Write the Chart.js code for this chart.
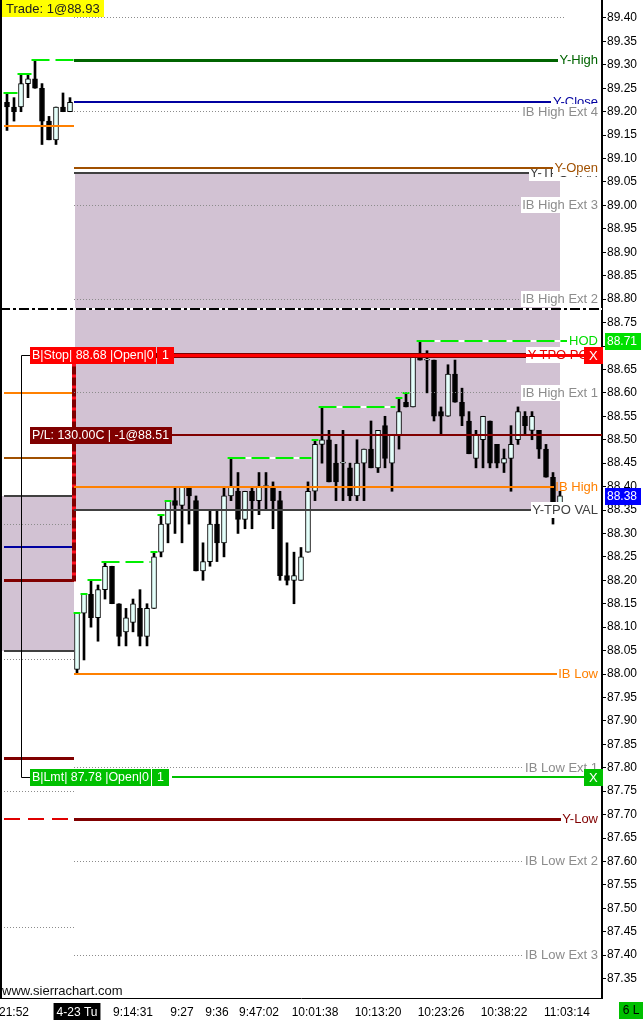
<!DOCTYPE html>
<html><head><meta charset="utf-8">
<script src="https://cdn.jsdelivr.net/npm/chart.js@4.4.1/dist/chart.umd.min.js"></script>
<style>html,body{margin:0;padding:0;background:#fff;overflow:hidden}canvas{display:block}</style>
</head><body>
<canvas id="c" width="643" height="1020"></canvas>
<script>
// ---------------- DATA ----------------
// bars 0-9 = previous session (end), bars 10-79 = current session
const sessionStart = 10;
const opens  = [89.22,89.21,89.21,89.26,89.27,89.25,89.18,89.14,89.21,89.20,
  88.01,88.13,88.17,88.12,88.18,88.23,88.15,88.09,88.11,88.14,
  88.08,88.14,88.26,88.32,88.37,88.36,88.40,88.37,88.22,88.24,
  88.32,88.28,88.38,88.39,88.33,88.39,88.37,88.40,88.40,88.37,
  88.21,88.20,88.20,88.26,88.39,88.49,88.50,88.45,88.45,88.44,
  88.38,88.45,88.48,88.44,88.53,88.45,88.51,88.58,88.57,88.68,
  88.67,88.67,88.56,88.55,88.64,88.58,88.54,88.46,88.50,88.54,
  88.49,88.45,88.46,88.50,88.55,88.52,88.52,88.48,88.42,88.35];
const highs  = [89.24,89.23,89.28,89.28,89.31,89.26,89.19,89.21,89.24,89.23,
  88.13,88.17,88.20,88.19,88.24,88.23,88.15,88.14,88.16,88.18,
  88.15,88.26,88.34,88.37,88.40,88.40,88.40,88.38,88.28,88.35,
  88.35,88.40,88.46,88.43,88.39,88.40,88.43,88.43,88.41,88.39,
  88.28,88.26,88.27,88.41,88.50,88.57,88.52,88.49,88.52,88.45,
  88.50,88.48,88.54,88.52,88.55,88.51,88.59,88.60,88.68,88.71,
  88.69,88.67,88.57,88.66,88.67,88.61,88.56,88.52,88.55,88.54,
  88.49,88.48,88.53,88.57,88.56,88.56,88.52,88.49,88.43,88.39];
const lows   = [89.16,89.18,89.20,89.23,89.25,89.13,89.14,89.13,89.20,89.20,
  88.00,88.03,88.10,88.07,88.16,88.15,88.06,88.06,88.09,88.06,
  88.06,88.14,88.25,88.28,88.30,88.28,88.32,88.22,88.20,88.23,
  88.24,88.25,88.37,88.30,88.31,88.31,88.34,88.35,88.31,88.20,
  88.19,88.15,88.20,88.26,88.37,88.45,88.41,88.37,88.37,88.37,
  88.37,88.37,88.44,88.43,88.44,88.39,88.48,88.57,88.57,88.67,
  88.60,88.54,88.51,88.55,88.58,88.53,88.47,88.44,88.44,88.44,
  88.44,88.43,88.39,88.49,88.51,88.50,88.46,88.42,88.32,88.35];
const closes = [89.21,89.20,89.26,89.27,89.25,89.18,89.14,89.21,89.20,89.22,
  88.13,88.17,88.12,88.18,88.23,88.15,88.08,88.12,88.15,88.08,
  88.14,88.25,88.32,88.37,88.36,88.40,88.38,88.22,88.24,88.32,
  88.28,88.38,88.40,88.33,88.39,88.37,88.40,88.40,88.37,88.21,
  88.20,88.21,88.25,88.39,88.49,88.50,88.41,88.41,88.45,88.38,
  88.45,88.48,88.44,88.52,88.46,88.51,88.56,88.57,88.68,88.67,
  88.67,88.55,88.55,88.64,88.58,88.55,88.47,88.51,88.55,88.45,
  88.45,88.46,88.49,88.56,88.53,88.55,88.48,88.42,88.35,88.38];

const timeLabels    = ['21:52','4-23 Tu','9:14:31','9:27','9:36','9:47:02','10:01:38','10:13:20','10:23:26','10:38:22','11:03:14'];
const timeLabelBars = [1,10,18,25,30,36,44,53,62,71,80];

const yTickLabels = ['87.35','87.40','87.45','87.50','87.55','87.60','87.65','87.70','87.75','87.80',
  '87.85','87.90','87.95','88.00','88.05','88.10','88.15','88.20','88.25','88.30','88.35','88.40',
  '88.45','88.50','88.55','88.60','88.65','88.70','88.75','88.80','88.85','88.90','88.95','89.00',
  '89.05','89.10','89.15','89.20','89.25','89.30','89.35','89.40'];

// current-session study levels (drawn in this order)
const levelNames  = ['IB High Ext 5','Y-High','Y-Close','IB High Ext 4','Y-TPO VAH','Y-Open','IB High Ext 3',
  'IB High Ext 2','IB Mid','HOD','Y-TPO POC','IB High Ext 1','IB High','Y-TPO VAL','IB Low','IB Low Ext 1',
  'Y-Low','IB Low Ext 2','IB Low Ext 3'];
const levelPrices = [89.40,89.31,89.22,89.20,89.07,89.08,89.00,88.80,88.78,88.71,88.68,88.60,88.40,88.35,
  88.00,87.80,87.69,87.60,87.40];
const todayValueArea = [88.35, 89.07];

// previous-session levels (left part of chart)
const priorLevelNames  = ['ibl','ibh','open','vah','ext','close','low','val','ext2','pl','ext3','ylow','ext4'];
const priorLevelPrices = [89.17,88.60,88.46,88.38,88.32,88.27,88.20,88.05,88.03,87.82,87.75,87.69,87.46];
const priorValueArea = [88.05, 88.38];

// orders / trade info
const orderTexts  = ['B|Stop| 88.68 |Open|0', 'B|Lmt| 87.78 |Open|0'];
const orderQty    = ['1','1'];
const orderPrices = [88.68, 87.78];
const stopTrailTo = 88.20;
const pnlText = 'P/L: 130.00C | -1@88.51';
const pnlPrice = 88.51;
const tradeText = 'Trade: 1@88.93';
const statusText = '6 L';

// ---------------- STYLES ----------------
const FONT = '13px "Liberation Sans", Arial, sans-serif';
const BOX_FONT = '12.4px "Liberation Sans", Arial, sans-serif';
const SHADE = 'rgb(210,194,211)';
const EXT = { line:'#8c8c8c', w:1, dash:[1,2], text:'#8c8c8c', bg:'#ffffff' };
const ORANGE = { line:'#ff8000', w:2, text:'#ff8000' };
const levelStyle = {
  'IB High Ext 5': { line:'#8c8c8c', w:1, dash:[1,2], text:null, endGap:37 },
  'Y-High': { line:'#006400', w:3, text:'#006400' },
  'Y-Close': { line:'#0000a0', w:2, text:'#0000a0' },
  'IB High Ext 4': EXT,
  'Y-TPO VAH': { line:'#404040', w:2, text:'#404040', bg:'#ffffff' },
  'Y-Open': { line:'#a05000', w:2, text:'#a05000', bg:'#ffffff' },
  'IB High Ext 3': EXT,
  'IB High Ext 2': EXT,
  'IB Mid': { line:'#000000', w:2, dash:[10,3,3,3], under:'#ffffff', text:null, full:true },
  'HOD': { line:null, text:'#00dd00' },
  'Y-TPO POC': { line:'#800000', w:5, text:'#e00000', bg:'#ffffff' },
  'IB High Ext 1': EXT,
  'IB High': ORANGE,
  'Y-TPO VAL': { line:'#404040', w:2, text:'#404040', bg:'#ffffff' },
  'IB Low': ORANGE,
  'IB Low Ext 1': EXT,
  'Y-Low': { line:'#800000', w:3, text:'#800000' },
  'IB Low Ext 2': EXT,
  'IB Low Ext 3': EXT
};
const priorStyle = {
  ibl:{c:'#ff8000',w:2}, ibh:{c:'#ff8000',w:2}, open:{c:'#a05000',w:2}, vah:{c:'#404040',w:2},
  ext:{c:'#8c8c8c',w:1,d:[1,2]}, close:{c:'#0000a0',w:2}, low:{c:'#800000',w:3}, val:{c:'#404040',w:2},
  ext2:{c:'#8c8c8c',w:1,d:[1,2]}, pl:{c:'#800000',w:3}, ext3:{c:'#8c8c8c',w:1,d:[1,2]},
  ylow:{c:'#e00000',w:2,d:[16,8]}, ext4:{c:'#8c8c8c',w:1,d:[1,2]}
};

// ---------------- HELPERS ----------------
function hline(ctx, x1, x2, yp, color, w, dash, under) {
  const yy = (w % 2 === 1) ? Math.floor(yp) + 0.5 : Math.round(yp);
  ctx.save();
  ctx.lineWidth = w; ctx.lineCap = 'butt';
  if (under) {
    ctx.strokeStyle = under; ctx.setLineDash([]);
    ctx.beginPath(); ctx.moveTo(x1, yy); ctx.lineTo(x2, yy); ctx.stroke();
  }
  ctx.strokeStyle = color; ctx.setLineDash(dash || []);
  ctx.beginPath(); ctx.moveTo(x1, yy); ctx.lineTo(x2, yy); ctx.stroke();
  ctx.restore();
}
function labelLeft(ctx, a, text) {
  ctx.save(); ctx.font = FONT;
  const w = ctx.measureText(text).width; ctx.restore();
  return Math.floor(a.right - 4 - w) - 1;
}
function rightLabel(ctx, a, text, yp, color, bg) {
  ctx.save(); ctx.font = FONT;
  const xr = a.right - 4;
  const xl = labelLeft(ctx, a, text);
  if (bg) { ctx.fillStyle = bg; ctx.fillRect(xl, Math.round(yp) - 8, xr - xl + 2, 16); }
  ctx.fillStyle = color; ctx.textAlign = 'right'; ctx.textBaseline = 'middle';
  ctx.fillText(text, xr, Math.round(yp) + 0.5);
  ctx.restore();
  return xl;
}
function boxText(ctx, text, x, yc, bg, fg, pad, h, font) {
  ctx.save(); ctx.font = font || BOX_FONT;
  const w = Math.ceil(ctx.measureText(text).width);
  const top = Math.round(yc - h / 2);
  ctx.fillStyle = bg; ctx.fillRect(x, top, w + 2 * pad, h);
  ctx.fillStyle = fg; ctx.textAlign = 'left'; ctx.textBaseline = 'middle';
  ctx.fillText(text, x + pad, top + h / 2 + 0.5);
  ctx.restore();
  return x + w + 2 * pad;
}

const sierraPlugin = {
  id: 'sierra',
  beforeDatasetsDraw(chart) {
    const { ctx, chartArea: a, scales: { x, y } } = chart;
    ctx.save();
    ctx.fillStyle = SHADE;
    const xs = Math.round(x.getPixelForValue(sessionStart - 0.5)) + 1;
    const xe = Math.round(x.getPixelForValue(opens.length - 1));
    const t1 = y.getPixelForValue(todayValueArea[1]), b1 = y.getPixelForValue(todayValueArea[0]);
    ctx.fillRect(xs, Math.round(t1), xe - xs, Math.round(b1) - Math.round(t1));
    const t0 = y.getPixelForValue(priorValueArea[1]), b0 = y.getPixelForValue(priorValueArea[0]);
    ctx.fillRect(a.left + 2, Math.round(t0), xs - 3 - a.left, Math.round(b0) - Math.round(t0));
    ctx.restore();
  },
  afterDatasetsDraw(chart) {
    const { ctx, chartArea: a, scales: { x, y } } = chart;
    const xSess = x.getPixelForValue(sessionStart - 0.5);
    const xFirst = x.getPixelForValue(-0.5);

    // previous-session levels
    priorLevelNames.forEach((n, i) => {
      const s = priorStyle[n];
      hline(ctx, Math.round(xFirst), Math.round(xSess), y.getPixelForValue(priorLevelPrices[i]), s.c, s.w, s.d);
    });

    // running session highs (green dashes)
    const hodIdx = levelNames.indexOf('HOD');
    const hodLeft = labelLeft(ctx, a, levelNames[hodIdx]) - 1;
    [[0, sessionStart, xSess], [sessionStart, opens.length, hodLeft]].forEach(([s, e, endX]) => {
      let mx = -Infinity; const segs = [];
      for (let i = s; i < e; i++) if (highs[i] > mx) { mx = highs[i]; segs.push(i); }
      segs.forEach((bi, k) => {
        const x1 = x.getPixelForValue(bi - 0.5);
        const x2 = k + 1 < segs.length ? x.getPixelForValue(segs[k + 1] - 0.5) : endX;
        hline(ctx, x1, x2, y.getPixelForValue(highs[bi]), '#00ee00', 2, [18, 6], '#ffffff');
      });
    });

    // dark-red/red stop trail on the session boundary
    ctx.save();
    const yA = y.getPixelForValue(orderPrices[0]), yB = y.getPixelForValue(stopTrailTo);
    ctx.lineWidth = 4;
    ctx.strokeStyle = '#ff1020';
    ctx.beginPath(); ctx.moveTo(Math.round(xSess), yA); ctx.lineTo(Math.round(xSess), yB + 1); ctx.stroke();
    ctx.strokeStyle = '#800000'; ctx.setLineDash([8, 3]);
    ctx.beginPath(); ctx.moveTo(Math.round(xSess), yA); ctx.lineTo(Math.round(xSess), yB + 1); ctx.stroke();
    ctx.restore();

    // current-session levels
    levelNames.forEach((n, i) => {
      const s = levelStyle[n];
      const yp = y.getPixelForValue(levelPrices[i]);
      const x1 = s.full ? a.left : Math.round(xSess);
      let x2 = a.right;
      if (s.text) x2 = labelLeft(ctx, a, n);
      else if (s.endGap) x2 = a.right - s.endGap;
      if (s.line) hline(ctx, x1, x2, yp, s.line, s.w, s.dash, s.under);
      if (s.text) rightLabel(ctx, a, n, yp, s.text, s.bg);
    });

    // orders
    const yS = y.getPixelForValue(orderPrices[0]);
    const yL = y.getPixelForValue(orderPrices[1]);
    const yP = y.getPixelForValue(pnlPrice);
    const xBoxX = a.right - 18;
    // stop
    let e1 = boxText(ctx, orderTexts[0], 30, yS, '#ff0000', '#ffffff', 2, 17);
    e1 = boxText(ctx, orderQty[0], e1 + 1, yS, '#ff0000', '#ffffff', 5, 17);
    hline(ctx, e1, xBoxX, yS, '#ff0000', 3);
    boxText(ctx, 'X', xBoxX, yS, '#ff0000', '#ffffff', 5, 17, FONT);
    // limit
    let e2 = boxText(ctx, orderTexts[1], 30, yL, '#00c000', '#ffffff', 2, 17);
    e2 = boxText(ctx, orderQty[1], e2 + 1, yL, '#00c000', '#ffffff', 5, 17);
    hline(ctx, e2 + 3, xBoxX, yL, '#00c000', 2);
    boxText(ctx, 'X', xBoxX, yL, '#00c000', '#ffffff', 5, 17, FONT);
    // P/L
    const e3 = boxText(ctx, pnlText, 30, yP, '#800000', '#ffffff', 2, 17);
    hline(ctx, e3, a.right, yP, '#800000', 2);
    // OCO bracket
    ctx.save();
    ctx.strokeStyle = '#000'; ctx.lineWidth = 1;
    ctx.beginPath();
    ctx.moveTo(30, Math.floor(yS) + 0.5); ctx.lineTo(21.5, Math.floor(yS) + 0.5);
    ctx.lineTo(21.5, Math.floor(yL) + 0.5); ctx.lineTo(30, Math.floor(yL) + 0.5);
    ctx.stroke();
    ctx.restore();

    // trade label and watermark
    boxText(ctx, tradeText, 2, 8.5, '#ffff00', '#202020', 4, 17, FONT);
    ctx.save();
    ctx.font = FONT; ctx.fillStyle = '#101010'; ctx.textAlign = 'left'; ctx.textBaseline = 'middle';
    ctx.fillText('www.sierrachart.com', 2, a.bottom - 7);
    ctx.restore();

    // left border
    ctx.fillStyle = '#000';
    ctx.fillRect(a.left, a.top, 2, a.bottom - a.top);
  },
  afterDraw(chart) {
    const { ctx, chartArea: a, scales: { y } } = chart;
    const hod = Math.max(...highs.slice(sessionStart));
    const last = closes[closes.length - 1];
    [[hod, '#00e000'], [last, '#0000ff']].forEach(([p, bg]) => {
      const yp = Math.round(y.getPixelForValue(p));
      ctx.fillStyle = bg; ctx.fillRect(a.right + 3, yp - 8, 36, 17);
      ctx.font = '12px "Liberation Sans", Arial, sans-serif';
      ctx.fillStyle = '#ffffff'; ctx.textAlign = 'left'; ctx.textBaseline = 'middle';
      ctx.fillText(p.toFixed(2), a.right + 5, yp + 1);
    });
    ctx.fillStyle = '#00c000'; ctx.fillRect(619, a.bottom + 4, 24, 17);
    ctx.font = '12px "Liberation Sans", Arial, sans-serif';
    ctx.fillStyle = '#000'; ctx.textAlign = 'center'; ctx.textBaseline = 'middle';
    ctx.fillText(statusText, 631, a.bottom + 13);
  }
};

// ---------------- CHART ----------------
const idx = opens.map((_, i) => i);
const upColor = '#e4fffa';
new Chart(document.getElementById('c'), {
  type: 'bar',
  data: {
    datasets: [
      {
        label: 'body', order: 0,
        data: idx.map(i => ({ x: i, y: [opens[i], closes[i]] })),
        backgroundColor: idx.map(i => closes[i] >= opens[i] ? upColor : '#000000'),
        borderColor: '#000000', borderWidth: 1, borderSkipped: false,
        barThickness: 5, grouped: false, minBarLength: 1
      },
      {
        label: 'wick', order: 1,
        data: idx.map(i => ({ x: i, y: [lows[i], highs[i]] })),
        backgroundColor: '#000000', borderWidth: 0,
        barThickness: 2, grouped: false
      }
    ]
  },
  options: {
    responsive: false, animation: false, devicePixelRatio: 1,
    layout: { padding: 0 },
    plugins: { legend: { display: false }, tooltip: { enabled: false } },
    events: [],
    scales: {
      x: {
        type: 'linear', position: 'bottom', offset: false,
        min: -1, max: 85,
        grid: { display: false, drawTicks: false },
        border: { display: true, color: '#000', width: 1 },
        afterBuildTicks: s => { s.ticks = timeLabelBars.map(v => ({ value: v })); },
        afterFit: s => { s.height = 22; s.paddingLeft = 0; s.paddingRight = 0; },
        ticks: {
          autoSkip: false, maxRotation: 0, minRotation: 0, padding: 7,
          font: { family: '"Liberation Sans", Arial, sans-serif', size: 12 },
          color: c => c.index === 1 ? '#ffffff' : '#000000',
          callback: (v, i) => timeLabels[i],
          showLabelBackdrop: c => c.index === 1,
          backdropColor: '#000000',
          backdropPadding: { left: 3, right: 3, top: 2, bottom: 2 }
        }
      },
      y: {
        type: 'linear', position: 'right',
        min: 87.3086, max: 89.4384,
        grid: { display: true, drawOnChartArea: false, drawTicks: true, tickLength: 4, color: '#000' },
        border: { display: true, color: '#000', width: 2 },
        afterBuildTicks: s => { s.ticks = yTickLabels.map(t => ({ value: parseFloat(t) })); },
        afterFit: s => { s.width = 41; s.paddingTop = 0; s.paddingBottom = 0; },
        ticks: {
          padding: 1, color: '#000',
          font: { family: '"Liberation Sans", Arial, sans-serif', size: 12 },
          callback: (v, i) => yTickLabels[i]
        }
      }
    }
  },
  plugins: [sierraPlugin]
});
</script>
</body></html>
